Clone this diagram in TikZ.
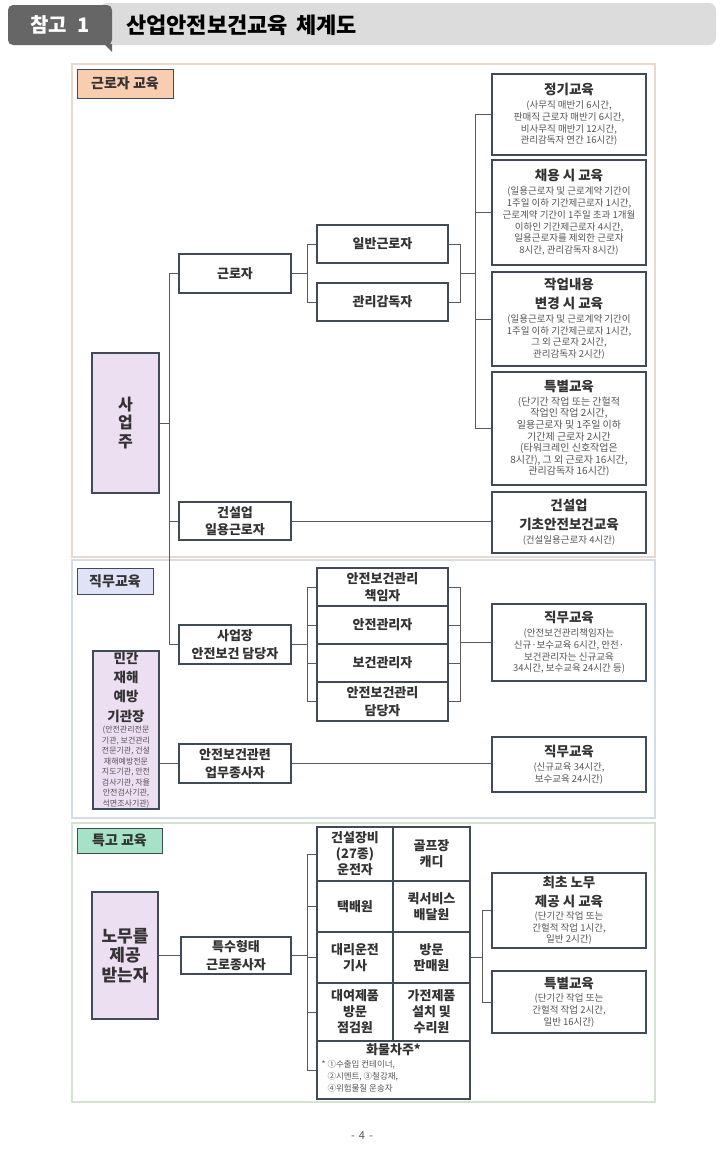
\documentclass[tikz,border=0pt]{standalone}
\usepackage{fontspec}
\usepackage{xcolor}
\setmainfont{Noto Sans CJK KR}
\usetikzlibrary{calc}

\definecolor{boxline}{HTML}{404B5A}
\definecolor{connline}{HTML}{5A5A5A}
\definecolor{txtdark}{HTML}{333333}
\definecolor{txtgray}{HTML}{555555}
\definecolor{lavender}{HTML}{ECDFF2}
\definecolor{peach}{HTML}{F9CDAF}
\definecolor{periwinkle}{HTML}{E0E3F7}
\definecolor{mint}{HTML}{A6E3C6}
\definecolor{framepeach}{HTML}{EBD8CC}
\definecolor{frameblue}{HTML}{D3DDE8}
\definecolor{framegreen}{HTML}{D2E4CF}
\definecolor{hdrtab}{HTML}{666666}
\definecolor{hdrbar}{HTML}{DCDCDC}

\newcommand{\edtitle}[1]{{\fontsize{13.5}{16}\selectfont\bfseries\color{txtdark}#1}}

\begin{document}
\begin{tikzpicture}[x=1pt,y=-1pt]
    \tikzstyle{every node}=[inner sep=0pt, align=center, text=txtdark]
    \tikzstyle{gbox}=[draw=boxline, line width=1.1pt, fill=white, font=\fontsize{13}{17.5}\selectfont\bfseries]
    \tikzstyle{ebox}=[draw=boxline, line width=1.1pt, fill=white, minimum width=154, font=\fontsize{9.5}{11.8}\selectfont, text=txtgray]
    \tikzstyle{pbox}=[draw=boxline, line width=1.1pt, fill=lavender, font=\fontsize{13}{16}\selectfont\bfseries]
    \tikzstyle{cell}=[draw=boxline, line width=1.1pt, fill=white, font=\fontsize{13}{16}\selectfont\bfseries]
    \tikzstyle{tag}=[draw=boxline, line width=0.9pt, font=\fontsize{14}{16}\selectfont\bfseries]
    \tikzstyle{frame}=[line width=1.2pt]
    \tikzstyle{conn}=[draw=connline, line width=0.8pt]

    \fill[white] (0,0) rectangle (720,1175);
    \useasboundingbox (0,0) rectangle (720,1175);

    % header bar
    \fill[hdrbar, rounded corners=7pt] (100,3) rectangle (716,45);
    \fill[hdrtab, rounded corners=5pt] (8,5) rectangle (112,45);
    \fill[hdrtab] (104,44) -- (112,44) -- (112,52) -- cycle;
    \node[text=white, font=\fontsize{20}{22}\selectfont\bfseries] (tabtxt) at (60,25) {참고\hspace{10pt}1};
    \node[anchor=west, text=black, font=\fontsize{22}{24}\selectfont\bfseries] (ttl) at (126,25) {산업안전보건교육\hspace{8pt}체계도};

    % section frames
    \draw[frame, draw=framepeach] (72,64) rectangle (655,557);
    \draw[frame, draw=frameblue] (72,560) rectangle (655,818);
    \draw[frame, draw=framegreen] (72,823) rectangle (655,1102);

    \node[tag, fill=peach, minimum width=96, minimum height=29] (tag1) at (125,83.5) {근로자 교육};
    \node[tag, fill=periwinkle, minimum width=76, minimum height=26] (tag2) at (115,581) {직무교육};
    \node[tag, fill=mint, minimum width=85, minimum height=25] (tag3) at (119.5,840.5) {특고 교육};

    % x positions of the brackets
    \coordinate (xL) at (169,0);
    \coordinate (xA) at (307,0);
    \coordinate (xB) at (460,0);
    \coordinate (xT) at (475,0);
    \coordinate (xR) at (482,0);

    % section 1
    \node[pbox, minimum width=67, minimum height=140, font=\fontsize{16}{18.5}\selectfont\bfseries] (usr) at (125.5,423) {사\\업\\주};
    \node[gbox, minimum width=112, minimum height=39] (wkr) at (235,273.5) {근로자};
    \node[gbox, minimum width=131, minimum height=38] (gen) at (382.5,244) {일반근로자};
    \node[gbox, minimum width=131, minimum height=38] (sup) at (382.5,302) {관리감독자};
    \node[gbox, minimum width=112, minimum height=38] (cday) at (235,521) {건설업\\일용근로자};

    \node[ebox, minimum height=81] (reg) at (569,114.5) {\edtitle{정기교육}\\[2pt]
        (사무직 매반기 6시간,\\ 판매직 근로자 매반기 6시간,\\ 비사무직 매반기 12시간,\\ 관리감독자 연간 16시간)};
    \node[ebox, minimum height=105] (hire) at (569,212.5) {\edtitle{채용 시 교육}\\[2pt]
        (일용근로자 및 근로계약 기간이\\ 1주일 이하 기간제근로자 1시간,\\ 근로계약 기간이 1주일 초과 1개월\\
        이하인 기간제근로자 4시간,\\ 일용근로자를 제외한 근로자\\ 8시간, 관리감독자 8시간)};
    \node[ebox, minimum height=94] (chg) at (569,319) {\edtitle{작업내용}\\[5pt]\edtitle{변경 시 교육}\\[2pt]
        (일용근로자 및 근로계약 기간이\\ 1주일 이하 기간제근로자 1시간,\\ 그 외 근로자 2시간,\\ 관리감독자 2시간)};
    \node[ebox, minimum height=113, font=\fontsize{10}{11.6}\selectfont] (spc) at (569,428.5) {\edtitle{특별교육}\\[2pt]
        (단기간 작업 또는 간헐적\\ 작업인 작업 2시간,\\ 일용근로자 및 1주일 이하\\ 기간제 근로자 2시간\\
        (타워크레인 신호작업은\\ 8시간), 그 외 근로자 16시간,\\ 관리감독자 16시간)};
    \node[ebox, minimum height=61] (basic) at (569,522.5) {\edtitle{건설업}\\[5pt]\edtitle{기초안전보건교육}\\[3pt]
        (건설일용근로자 4시간)};

    % section 2
    \node[gbox, minimum width=112, minimum height=39] (site) at (235,644.5) {사업장\\안전보건 담당자};
    \node[gbox, minimum width=131, minimum height=38] (m1) at (382.5,587) {안전보건관리\\책임자};
    \node[gbox, minimum width=131, minimum height=38] (m2) at (382.5,625) {안전관리자};
    \node[gbox, minimum width=131, minimum height=38] (m3) at (382.5,663) {보건관리자};
    \node[gbox, minimum width=131, minimum height=39] (m4) at (382.5,701.5) {안전보건관리\\담당자};
    \node[pbox, minimum width=66, minimum height=158, font=\fontsize{8}{10.5}\selectfont\mdseries, text=txtgray] (inst) at (126,730)
        {\edtitle{민간}\\[5.5pt]\edtitle{재해}\\[5.5pt]\edtitle{예방}\\[5.5pt]\edtitle{기관장}\\[1pt]
        (안전관리전문\\ 기관, 보건관리\\ 전문기관, 건설\\ 재해예방전문\\ 지도기관, 안전\\ 검사기관, 자율\\ 안전검사기관,\\ 석면조사기관)};
    \node[gbox, minimum width=112, minimum height=39] (staff) at (235,763.5) {안전보건관련\\업무종사자};
    \node[ebox, minimum height=77] (duty1) at (569,642.5) {\edtitle{직무교육}\\[2pt]
        (안전보건관리책임자는\\ 신규·보수교육 6시간, 안전·\\ 보건관리자는 신규교육\\ 34시간, 보수교육 24시간 등)};
    \node[ebox, minimum height=55] (duty2) at (569,764.5) {\edtitle{직무교육}\\[2pt]
        (신규교육 34시간,\\ 보수교육 24시간)};

    % section 3
    \node[pbox, minimum width=66, minimum height=127, font=\fontsize{17}{19.5}\selectfont\bfseries] (rcv) at (125,955.5) {노무를\\제공\\받는자};
    \node[gbox, minimum width=110, minimum height=37] (spec) at (236,955.5) {특수형태\\근로종사자};
    \node[cell, minimum width=76, minimum height=54] (c11) at (355,854) {건설장비\\(27종)\\운전자};
    \node[cell, minimum width=77, minimum height=54] (c12) at (431.5,854) {골프장\\캐디};
    \node[cell, minimum width=76, minimum height=51] (c21) at (355,906.5) {택배원};
    \node[cell, minimum width=77, minimum height=51] (c22) at (431.5,906.5) {퀵서비스\\배달원};
    \node[cell, minimum width=76, minimum height=51] (c31) at (355,957.5) {대리운전\\기사};
    \node[cell, minimum width=77, minimum height=51] (c32) at (431.5,957.5) {방문\\판매원};
    \node[cell, minimum width=76, minimum height=58] (c41) at (355,1012) {대여제품\\방문\\점검원};
    \node[cell, minimum width=77, minimum height=58] (c42) at (431.5,1012) {가전제품\\설치 및\\수리원};
    \node[cell, minimum width=153, minimum height=58] (cargo) at (393.5,1070) {};
    \node[anchor=north, font=\fontsize{13}{15}\selectfont\bfseries] (cargottl) at ($(cargo.north)+(0,3)$) {화물차주*};
    \node[anchor=north west, align=left, text=txtgray, font=\fontsize{8.5}{12}\selectfont] (cargonote) at ($(cargo.north west)+(5,20)$)
        {* ①수출입 컨테이너,\\ \hphantom{* }②시멘트, ③철강재,\\ \hphantom{* }④위험물질 운송자};
    \node[ebox, minimum height=75] (first) at (569,910.5) {\edtitle{최초 노무}\\[5pt]\edtitle{제공 시 교육}\\[1pt]
        (단기간 작업 또는\\ 간헐적 작업 1시간,\\ 일반 2시간)};
    \node[ebox, minimum height=62] (spc3) at (569,1002) {\edtitle{특별교육}\\[2pt]
        (단기간 작업 또는\\ 간헐적 작업 2시간,\\ 일반 16시간)};

    % connectors
    \draw[conn] (xL |- wkr.west) -- (xL |- site.west);
    \draw[conn] (usr.east) -- (xL |- usr.east);
    \draw[conn] (xL |- wkr.west) -- (wkr.west);
    \draw[conn] (xL |- cday.west) -- (cday.west);
    \draw[conn] (xL |- site.west) -- (site.west);

    \draw[conn] (wkr.east) -- (xA |- wkr.east);
    \draw[conn] (gen.west) -- (xA |- gen.west) -- (xA |- sup.west) -- (sup.west);
    \draw[conn] (gen.east) -- (xB |- gen.east) -- (xB |- sup.east) -- (sup.east);
    \draw[conn] (xB |- wkr.east) -- (xT |- wkr.east);
    \draw[conn] (reg.west) -- (xT |- reg.west) -- (xT |- spc.west) -- (spc.west);
    \draw[conn] (xT |- hire.west) -- (hire.west);
    \draw[conn] (xT |- chg.west) -- (chg.west);
    \draw[conn] (cday.east) -- (cday.east -| basic.west);

    % section 2 edges
    \draw[conn] (site.east) -- (xA |- site.east);
    \draw[conn] (m1.west) -- (xA |- m1.west) -- (xA |- m4.west) -- (m4.west);
    \draw[conn] (xA |- m2.west) -- (m2.west);
    \draw[conn] (xA |- m3.west) -- (m3.west);
    \draw[conn] (m1.east) -- (xB |- m1.east) -- (xB |- m4.east) -- (m4.east);
    \draw[conn] (xB |- m2.east) -- (m2.east);
    \draw[conn] (xB |- m3.east) -- (m3.east);
    \draw[conn] (xB |- duty1.west) -- (duty1.west);
    \draw[conn] (inst.east |- staff.west) -- (staff.west);
    \draw[conn] (staff.east) -- (staff.east -| duty2.west);

    % section 3 edges
    \draw[conn] (rcv.east |- spec.west) -- (spec.west);
    \draw[conn] (spec.east) -- (xA |- spec.east);
    \draw[conn] (c11.west) -- (xA |- c11.west) -- (xA |- cargo.west) -- (cargo.west);
    \draw[conn] (xA |- c21.west) -- (c21.west);
    \draw[conn] (xA |- c31.west) -- (c31.west);
    \draw[conn] (xA |- c41.west) -- (c41.west);
    \draw[conn] (c32.east) -- (xR |- c32.east);
    \draw[conn] (first.west) -- (xR |- first.west) -- (xR |- spc3.west) -- (spc3.west);

    % page number
    \node[text=txtgray, font=\fontsize{11}{13}\selectfont] (pgno) at (362,1136) {-\hspace{4pt}4\hspace{4pt}-};
\end{tikzpicture}
\end{document}
